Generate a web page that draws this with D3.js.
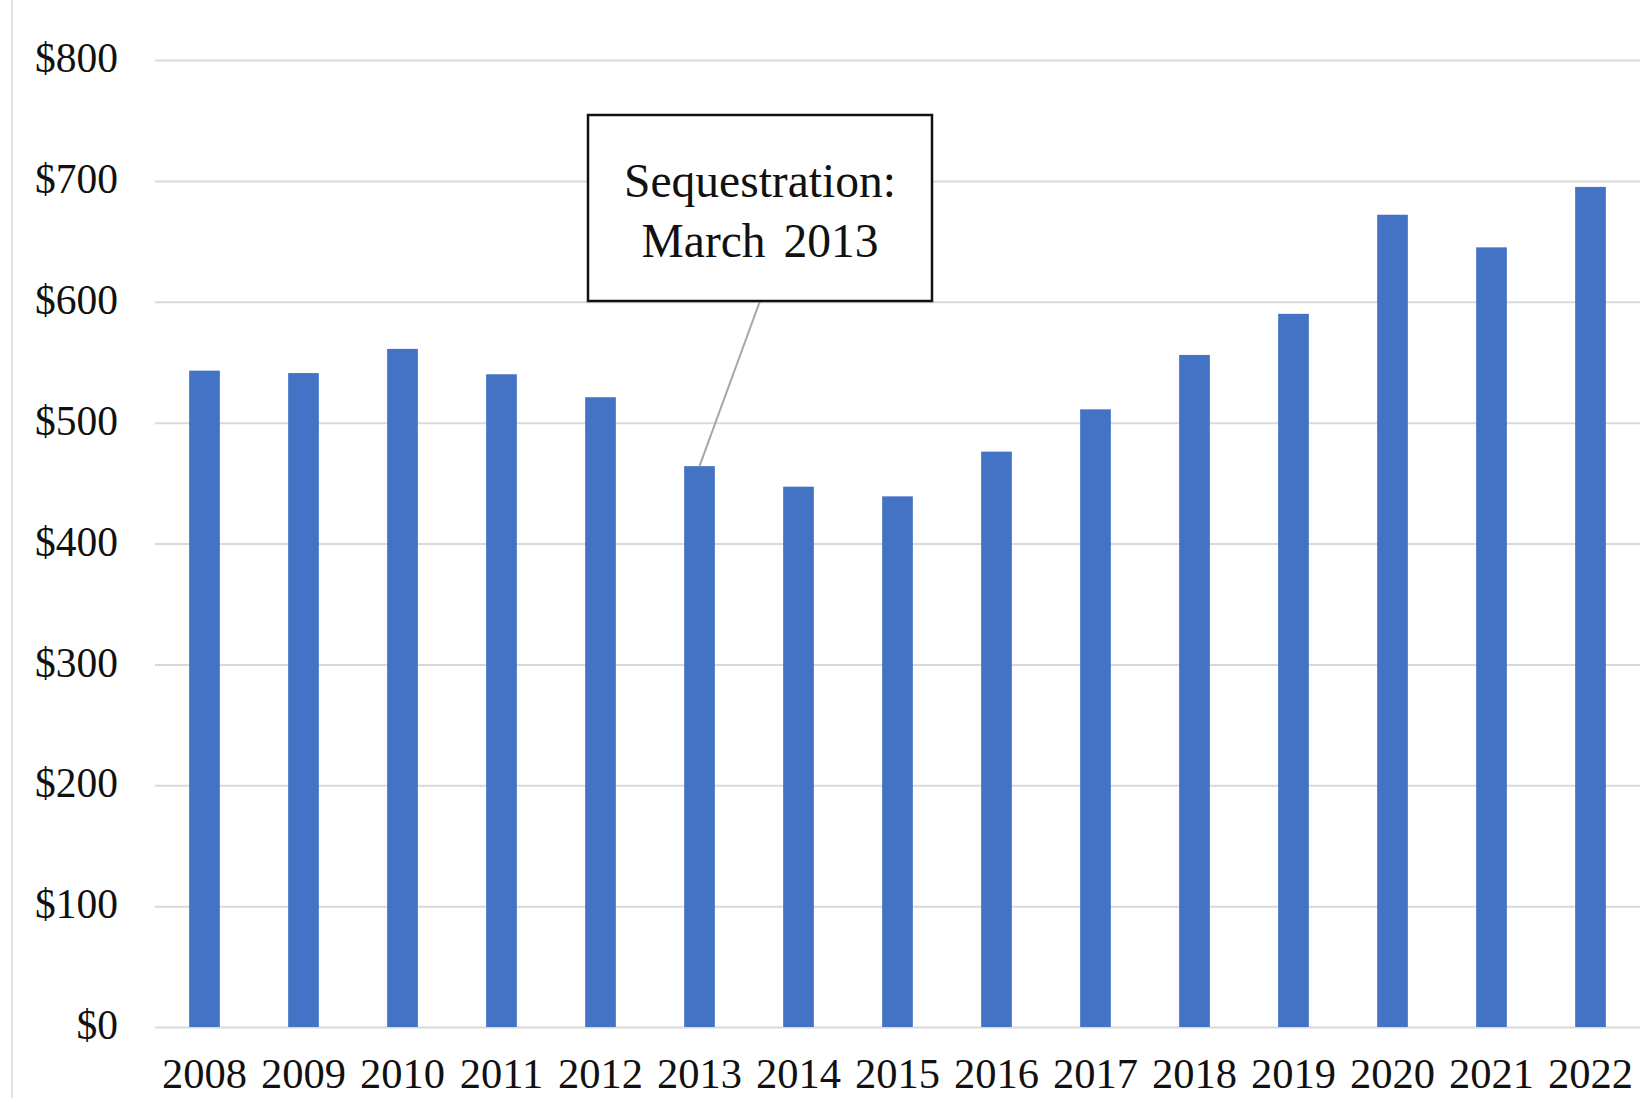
<!DOCTYPE html>
<html>
<head>
<meta charset="utf-8">
<script src="https://cdn.jsdelivr.net/npm/d3@7"></script>
<style>
  html, body { margin: 0; padding: 0; background: #ffffff; }
  svg { display: block; }
</style>
</head>
<body>
<svg id="chart" width="1643" height="1098"></svg>
<script>
// ---- data ----
const years = ["2008","2009","2010","2011","2012","2013","2014","2015","2016","2017","2018","2019","2020","2021","2022"];
const values = [543, 541, 561, 540, 521, 464, 447, 439, 476, 511, 556, 590, 672, 645, 695];
const yTicks = [0, 100, 200, 300, 400, 500, 600, 700, 800];
const annotationLines = ["Sequestration:", "March 2013"];
const annotationYear = "2013";

// ---- layout ----
(function () {
const W = 1643, H = 1098;
const mLeft = 155, mRight = 1640, mTop = 60, mBottom = 1027;
const svg = d3.select("#chart");
const serif = "'Liberation Serif', 'Times New Roman', serif";

svg.append("rect").attr("width", W).attr("height", H).attr("fill", "#fff");
// left border line
svg.append("line").attr("x1", 12).attr("x2", 12).attr("y1", 0).attr("y2", H)
  .attr("stroke", "#d9d9d9").attr("stroke-width", 1.5);

const x = d3.scaleBand().domain(years).range([mLeft, mRight])
  .paddingInner(0.69).paddingOuter(0.345);
const y = d3.scaleLinear().domain([0, 800]).range([mBottom, mTop]);

// y axis with gridlines
const yAxis = svg.append("g").attr("transform", `translate(${mLeft},0)`)
  .call(d3.axisLeft(y).tickValues(yTicks).tickFormat(d => "$" + d)
    .tickSize(-(mRight - mLeft)).tickPadding(37));
yAxis.select(".domain").remove();
yAxis.selectAll(".tick line").attr("stroke", "#d9d9d9").attr("stroke-width", 2);
yAxis.selectAll(".tick text")
  .attr("font-family", serif).attr("font-size", 41.5).attr("fill", "#111")
  .attr("dy", "0.28em");

// bars
svg.append("g").selectAll("rect").data(years).join("rect")
  .attr("x", d => x(d))
  .attr("width", x.bandwidth())
  .attr("y", (d, i) => y(values[i]))
  .attr("height", (d, i) => y(0) - y(values[i]))
  .attr("fill", "#4472c4");

// x axis
const xAxis = svg.append("g").attr("transform", `translate(0,${mBottom})`)
  .call(d3.axisBottom(x).tickSize(0).tickPadding(0));
xAxis.select(".domain").remove();
xAxis.selectAll(".tick text")
  .attr("font-family", serif).attr("font-size", 42.5).attr("fill", "#111")
  .attr("y", 61).attr("dy", 0);

// annotation
const bx0 = 588, bx1 = 932, by0 = 115, by1 = 301;
const ai = years.indexOf(annotationYear);
svg.append("line")
  .attr("x1", (bx0 + bx1) / 2).attr("y1", by1)
  .attr("x2", x(annotationYear) + x.bandwidth() / 2).attr("y2", y(values[ai]))
  .attr("stroke", "#a6a6a6").attr("stroke-width", 2);
svg.append("rect").attr("x", bx0).attr("y", by0)
  .attr("width", bx1 - bx0).attr("height", by1 - by0)
  .attr("fill", "#fff").attr("stroke", "#111").attr("stroke-width", 2.5);
svg.append("g").selectAll("text").data(annotationLines).join("text")
  .attr("x", (bx0 + bx1) / 2)
  .attr("y", (d, i) => 197 + i * 60)
  .attr("text-anchor", "middle")
  .attr("font-family", serif).attr("font-size", 47.5).attr("fill", "#111")
  .attr("word-spacing", 6)
  .text(d => d);
})();
</script>
</body>
</html>
